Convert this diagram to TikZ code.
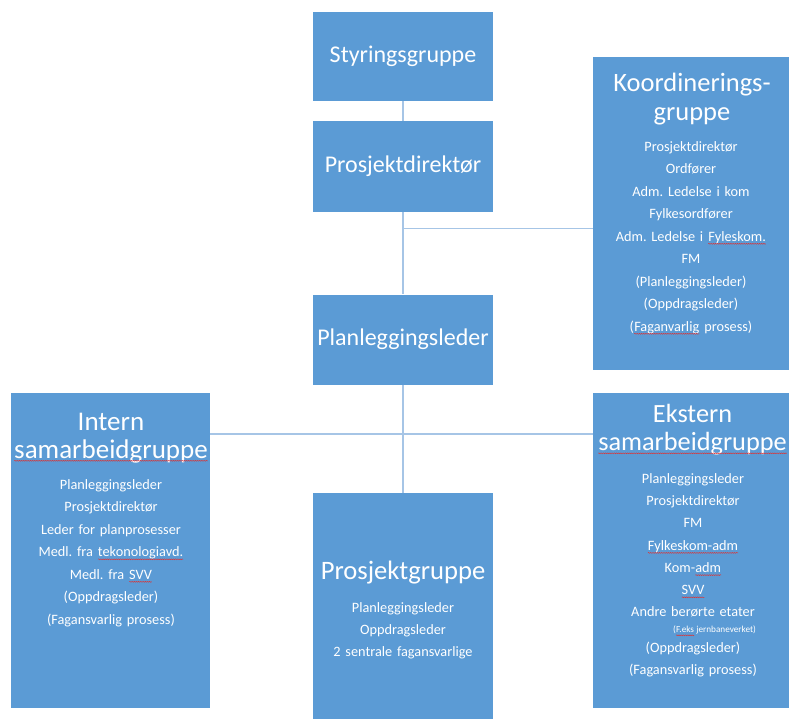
\documentclass[tikz,border=0pt]{standalone}
\usepackage{fontspec}
\setmainfont{Carlito}
\frenchspacing
\usetikzlibrary{decorations.pathmorphing}
\definecolor{boxblue}{HTML}{5B9BD5}
\definecolor{linecol}{HTML}{A6C5E6}
\definecolor{wavered}{HTML}{E03030}
\newcommand\sq[1]{\tikz[baseline=(w.base)]{\node[inner sep=0pt,outer sep=0pt] (w) {#1};
  \draw[wavered, line width=0.45pt, decorate, decoration={snake, amplitude=0.45pt, segment length=2.2pt}] ([yshift=-2.8pt]w.base west) -- ([yshift=-2.8pt]w.base east);}}
\begin{document}
\begin{tikzpicture}[x=1pt,y=-1pt,
  box/.style={fill=boxblue, draw=none, inner sep=0pt, text=white},
  smallbox/.style={box, minimum width=180pt, minimum height=90pt, font=\fontsize{24}{28}\selectfont},
  conn/.style={draw=linecol, line width=1.5pt},
  ttl/.style={text=white, inner sep=0pt, anchor=base, align=center, text width=230pt},
  items/.style={text=white, inner sep=0pt, anchor=base, align=center, text width=196pt, font=\fontsize{14.3}{22.5}\selectfont},
]
\useasboundingbox (0,0) rectangle (789,718);

% boxes
\node[smallbox, minimum height=89pt] (sty) at (403,56.5) {Styringsgruppe};
\node[smallbox, minimum height=91pt] (pd) at (403,166.5) {Prosjektdirektør};
\node[smallbox] (pl) at (403,339.5) {Planleggingsleder};
\node[box, minimum width=196pt, minimum height=313pt] (kg) at (691,213.5) {};
\node[box, minimum width=199pt, minimum height=315pt] (ig) at (110.5,550.5) {};
\node[box, minimum width=196pt, minimum height=315pt] (eg) at (691,550.5) {};
\node[box, minimum width=180pt, minimum height=226pt] (pg) at (403,606) {};

% connectors
\coordinate (j1) at (404,228.7);
\coordinate (j2) at (404,434);
\draw[conn] (sty.south) -- (pd.north);
\draw[conn] (pd.south) -- (pl.north);
\draw[conn] (j1) -- (j1 -| kg.west);
\draw[conn] (pl.south) -- (pg.north);
\draw[conn] (j2 -| ig.east) -- (j2 -| eg.west);

% Koordineringsgruppe
\node[ttl, font=\fontsize{26.5}{29.5}\selectfont] (kgt) at (692,91) {Koordinerings-\\gruppe};
\node[items] (kgi) at (691,151) {Prosjektdirektør\\Ordfører\\Adm. Ledelse i kom\\Fylkesordfører\\Adm. Ledelse i \sq{Fyleskom.}\\FM\\(Planleggingsleder)\\(Oppdragsleder)\\(\sq{Faganvarlig} prosess)};

% Intern
\node[ttl, font=\fontsize{27}{28}\selectfont] (igt) at (111,430) {Intern\\\sq{samarbeidgruppe}};
\node[items] (igi) at (111,489) {Planleggingsleder\\Prosjektdirektør\\Leder for planprosesser\\Medl. fra \sq{tekonologiavd.}\\Medl. fra \sq{SVV}\\(Oppdragsleder)\\(Fagansvarlig prosess)};

% Ekstern
\node[ttl, font=\fontsize{26.3}{28.5}\selectfont] (egt) at (692.5,422) {Ekstern\\\sq{samarbeidgruppe}};
\node[items, font=\fontsize{14.3}{22.2}\selectfont] (egi) at (693,483.5) {Planleggingsleder\\Prosjektdirektør\\FM\\\sq{Fylkeskom-adm}\\Kom-\sq{adm}\\\sq{SVV}\\Andre berørte etater};
\node[text=white, inner sep=0pt, anchor=base, font=\fontsize{9.2}{11}\selectfont] (egs) at (714.5,632.5) {(\sq{F.eks} jernbaneverket)};
\node[items, font=\fontsize{14.3}{22}\selectfont] (ego) at (693,652.5) {(Oppdragsleder)\\(Fagansvarlig prosess)};

% Prosjektgruppe
\node[text=white, inner sep=0pt, anchor=base, font=\fontsize{26.6}{30}\selectfont] (pgt) at (403,579) {Prosjektgruppe};
\node[items, font=\fontsize{14.3}{22}\selectfont] (pgi) at (403,612.5) {Planleggingsleder\\Oppdragsleder\\2 sentrale fagansvarlige};
\end{tikzpicture}
\end{document}
